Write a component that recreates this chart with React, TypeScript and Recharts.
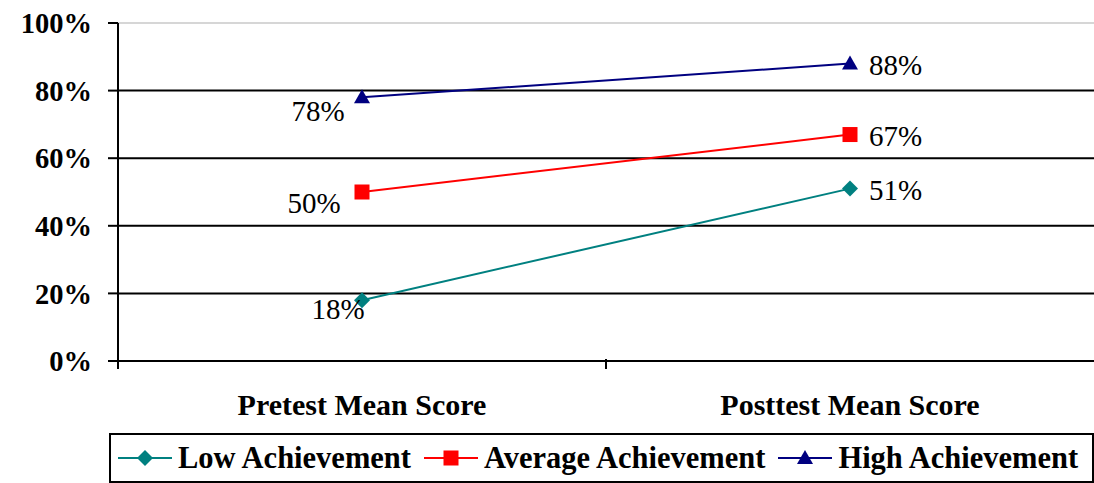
import { LineChart, Line, XAxis, YAxis, CartesianGrid, ReferenceLine, LabelList } from "recharts";

const categories = ["Pretest Mean Score", "Posttest Mean Score"];
const lowAchievement = [0.18, 0.51];
const averageAchievement = [0.5, 0.67];
const highAchievement = [0.78, 0.88];
const yTicks = [0, 0.2, 0.4, 0.6, 0.8, 1];

const data = categories.map((name, i) => ({
  name,
  low: lowAchievement[i],
  avg: averageAchievement[i],
  high: highAchievement[i],
}));

const FONT = '"Liberation Serif", "Times New Roman", serif';
const W = 1094;
const H = 483;
const PLOT_LEFT = 118;
const BAND = (W - PLOT_LEFT) / categories.length;

const series = [
  { key: "low", name: "Low Achievement", color: "#008080", shape: "diamond", leftDx: -24, leftDy: 9 },
  { key: "avg", name: "Average Achievement", color: "#FF0000", shape: "square", leftDx: -48, leftDy: 11 },
  { key: "high", name: "High Achievement", color: "#000080", shape: "triangle", leftDx: -44, leftDy: 14 },
];

function Marker({ cx, cy, shape, color }: any) {
  if (cx == null || cy == null) return null;
  if (shape === "diamond") {
    const r = 8;
    return <polygon points={`${cx},${cy - r} ${cx + r},${cy} ${cx},${cy + r} ${cx - r},${cy}`} fill={color} />;
  }
  if (shape === "square") {
    const r = 7.5;
    return <rect x={cx - r} y={cy - r} width={2 * r} height={2 * r} fill={color} />;
  }
  const r = 8;
  return <polygon points={`${cx},${cy - r} ${cx + r},${cy + 6} ${cx - r},${cy + 6}`} fill={color} />;
}

function makeLabel(s: any) {
  return (props: any) => {
    const { x, y, value, index } = props;
    const text = `${Math.round(value * 100)}%`;
    if (index === 0) {
      return (
        <text x={x + s.leftDx} y={y + s.leftDy} textAnchor="middle" dominantBaseline="central" fontFamily={FONT} fontSize={29} fill="#000">
          {text}
        </text>
      );
    }
    return (
      <text x={x + 19} y={y + 1} textAnchor="start" dominantBaseline="central" fontFamily={FONT} fontSize={29} fill="#000">
        {text}
      </text>
    );
  };
}

function CategoryTick({ x, y, payload, index }: any) {
  const last = index === categories.length - 1;
  return (
    <g>
      {index === 0 && <line x1={x - BAND / 2} x2={x - BAND / 2} y1={y - 10} y2={y} stroke="#000" strokeWidth={2} />}
      {!last && <line x1={x + BAND / 2} x2={x + BAND / 2} y1={y - 10} y2={y} stroke="#000" strokeWidth={2} />}
      <text x={x} y={y + 46} textAnchor="middle" fontFamily={FONT} fontSize={30} fontWeight="bold" fill="#000">
        {payload.value}
      </text>
    </g>
  );
}

function LegendIcon({ shape, color }: any) {
  return (
    <svg width={54} height={20} style={{ display: "block" }}>
      <line x1={0} x2={54} y1={10} y2={10} stroke={color} strokeWidth={2} />
      <Marker cx={27} cy={10} shape={shape} color={color} />
    </svg>
  );
}

export default function App() {
  return (
    <div style={{ position: "absolute", left: 0, top: 0, width: W, height: H, background: "#fff" }}>
      <LineChart width={W} height={H} data={data} margin={{ top: 23, right: 0, bottom: 62, left: 0 }}>
        <CartesianGrid vertical={false} horizontalValues={[0.2, 0.4, 0.6, 0.8]} stroke="#000" strokeWidth={2} />
        <ReferenceLine y={1} stroke="#c8c8c8" strokeWidth={1.5} />
        <XAxis
          dataKey="name"
          height={60}
          padding={{ left: BAND / 2, right: BAND / 2 }}
          axisLine={{ stroke: "#000", strokeWidth: 2 }}
          tickLine={false}
          tick={<CategoryTick />}
          interval={0}
        />
        <YAxis
          width={PLOT_LEFT}
          domain={[0, 1]}
          ticks={yTicks}
          tickFormatter={(v: number) => `${Math.round(v * 100)}%`}
          axisLine={{ stroke: "#000", strokeWidth: 2 }}
          tickLine={{ stroke: "#000", strokeWidth: 2 }}
          tickSize={10}
          tickMargin={16}
          tick={{ fontFamily: FONT, fontSize: 28.5, fontWeight: "bold", fill: "#000" }}
        />
        {series.map((s) => (
          <Line
            key={s.key}
            dataKey={s.key}
            name={s.name}
            stroke={s.color}
            strokeWidth={2}
            isAnimationActive={false}
            dot={(p: any) => <Marker key={`${s.key}-${p.index}`} cx={p.cx} cy={p.cy} shape={s.shape} color={s.color} />}
            activeDot={false}
          >
            <LabelList dataKey={s.key} content={makeLabel(s)} />
          </Line>
        ))}
      </LineChart>
      <div
        style={{
          position: "absolute",
          left: 109,
          top: 433,
          width: 985,
          height: 50,
          border: "2px solid #000",
          display: "flex",
          alignItems: "center",
          paddingLeft: 7,
          boxSizing: "border-box",
          fontFamily: FONT,
          fontSize: 30.5,
          fontWeight: "bold",
          whiteSpace: "nowrap",
          overflow: "hidden",
        }}
      >
        {series.map((s) => (
          <div key={s.key} style={{ display: "flex", alignItems: "center", marginRight: 13 }}>
            <LegendIcon shape={s.shape} color={s.color} />
            <span style={{ marginLeft: 6 }}>{s.name}</span>
          </div>
        ))}
      </div>
    </div>
  );
}
